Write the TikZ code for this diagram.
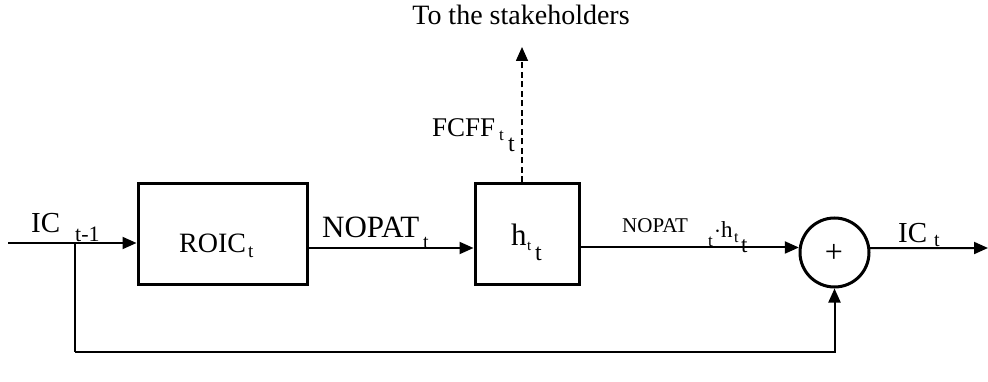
\documentclass[tikz,border=0pt]{standalone}
\usepackage{fontspec}
\setmainfont{Liberation Serif}
\usetikzlibrary{arrows.meta}
\newcommand\fsz[1]{\fontsize{#1}{#1}\selectfont}
\begin{document}
\begin{tikzpicture}[x=1pt,y=-1pt,
  blockbox/.style={draw,line width=3pt,inner sep=0},
  lbl/.style={inner sep=0,anchor=base west},
  conn/.style={line width=2pt,-{Triangle[length=14pt,width=12pt]}},
  dashconn/.style={line width=1.6pt,dash pattern=on 6pt off 3.5pt,-{Triangle[length=14pt,width=12pt]}}
]
\useasboundingbox (0,0) rectangle (988,382);
% blocks
\node[blockbox,minimum width=169pt,minimum height=100pt] (roic) at (222.5,234) {};
\node[blockbox,minimum width=104pt,minimum height=100pt] (hbox) at (527,234) {};
\node[draw,circle,line width=3pt,minimum size=69pt,inner sep=0] (sum) at (834.5,252.5) {};
\node[inner sep=0,font=\fsz{32}] (plus) at (834,253) {+};
% coordinates
\coordinate (in) at (8,243);
\coordinate (branch) at (75,243);
\coordinate (fb) at (75,352);
\coordinate (out) at (988,248);
\coordinate (top) at (522,47);
% connectors
\draw[conn] (in) -- (in -| roic.west);
\draw[line width=2pt] (branch) -- (fb);
\draw[conn] (fb) -| (sum.south);
\draw[conn] (roic.east |- 0,248) -- (hbox.west |- 0,248);
\draw[conn] (hbox.east |- sum.172.5) -- (sum.172.5);
\draw[conn] (sum.7.5) -- (out);
\draw[dashconn] (hbox.north -| top) -- (top);
% labels
\node[inner sep=0,anchor=base,font=\fsz{28}] (stake) at (521,25) {To the stakeholders};
\node[lbl,font=\fsz{29}] (ic1) at (31,233) {IC};
\node[lbl,font=\fsz{22}] (ic1s) at (75,242) {t-1};
\node[lbl,font=\fsz{28}] (roicl) at (179,253) {ROIC};
\node[lbl,font=\fsz{19}] (roicls) at (248,258) {t};
\node[lbl,font=\fsz{31}] (nopl) at (322,238) {NOPAT};
\node[lbl,font=\fsz{20}] (nopls) at (423,249) {t};
\node[lbl,font=\fsz{31}] (hl) at (511,246) {h};
\node[lbl,font=\fsz{15}] (hls) at (527,251) {t};
\node[lbl,font=\fsz{24}] (hlt) at (535,260) {t};
\node[lbl,font=\fsz{27}] (fcff) at (432,137) {FCFF};
\node[lbl,font=\fsz{17}] (fcffs) at (499,141) {t};
\node[lbl,font=\fsz{24}] (fcfft) at (508,152) {t};
\node[lbl,font=\fsz{21}] (nh) at (622,233) {NOPAT};
\node[lbl,font=\fsz{17}] (nhs) at (708,247) {t};
\node[lbl,font=\fsz{23}] (nhh) at (714,238) {$\cdot$h};
\node[lbl,font=\fsz{16}] (nhhs) at (734,243) {t};
\node[lbl,font=\fsz{23}] (nhht) at (741,253) {t};
\node[lbl,font=\fsz{29}] (ic2) at (898,243) {IC};
\node[lbl,font=\fsz{20}] (ic2s) at (934,247) {t};
\end{tikzpicture}
\end{document}
